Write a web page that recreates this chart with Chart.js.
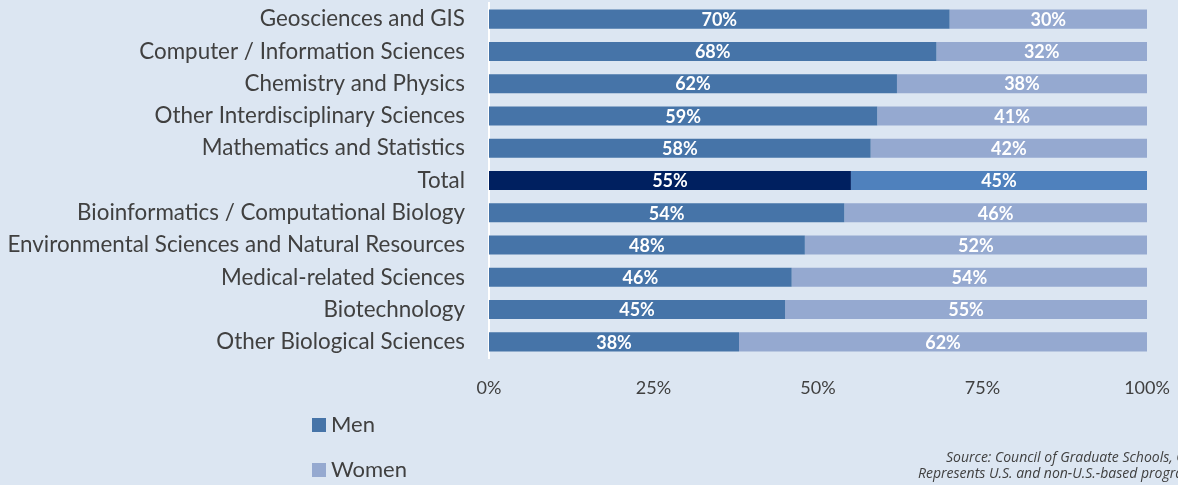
<!DOCTYPE html>
<html>
<head>
<meta charset="utf-8">
<script src="https://cdn.jsdelivr.net/npm/chart.js@4.4.0/dist/chart.umd.min.js"></script>
<style>
  html, body { margin: 0; padding: 0; background: #dce6f2; }
  #wrap { width: 1178px; height: 485px; }
</style>
</head>
<body>
<div id="wrap"><canvas id="barChart"></canvas></div>
<script>
const fields = [
  "Geosciences and GIS",
  "Computer / Information Sciences",
  "Chemistry and Physics",
  "Other Interdisciplinary Sciences",
  "Mathematics and Statistics",
  "Total",
  "Bioinformatics / Computational Biology",
  "Environmental Sciences and Natural Resources",
  "Medical-related Sciences",
  "Biotechnology",
  "Other Biological Sciences"
];
const men = [70, 68, 62, 59, 58, 55, 54, 48, 46, 45, 38];
const women = [30, 32, 38, 41, 42, 45, 46, 52, 54, 55, 62];
const xTicks = [0, 25, 50, 75, 100];

const menColor = "#4674a8";
const womenColor = "#95a9d0";
const totalMen = "#002060";
const totalWomen = "#4f81bd";
const textColor = "#404040";
const font = "Lato, 'Open Sans', sans-serif";

// labels inside bars + legend + source note
const extras = {
  id: "extras",
  afterDatasetsDraw(chart) {
    const ctx = chart.ctx;
    ctx.save();
    ctx.fillStyle = "#ffffff";
    ctx.font = "bold 18px " + font;
    ctx.textAlign = "center";
    ctx.textBaseline = "middle";
    chart.data.datasets.forEach((ds, di) => {
      chart.getDatasetMeta(di).data.forEach((bar, i) => {
        const x = (bar.x + bar.base) / 2;
        ctx.fillText(ds.data[i] + "%", x, bar.y + 1);
      });
    });
    ctx.restore();
  },
  afterDraw(chart) {
    const ctx = chart.ctx;
    ctx.save();
    // legend
    const items = [["Men", menColor, 425], ["Women", womenColor, 470]];
    ctx.font = "22px " + font;
    ctx.textBaseline = "middle";
    ctx.textAlign = "left";
    items.forEach(([name, color, y]) => {
      ctx.fillStyle = color;
      ctx.fillRect(312, y - 7, 14, 14);
      ctx.fillStyle = textColor;
      ctx.fillText(name, 331, y);
    });
    // source
    ctx.font = "italic 14px 'Open Sans', sans-serif";
    ctx.fillStyle = textColor;
    ctx.fillText("Source: Council of Graduate Schools, Graduate Enrollment and Degrees", 946, 458);
    ctx.fillText("Represents U.S. and non-U.S.-based programs", 918, 474);
    ctx.restore();
  }
};

const ctx = document.getElementById("barChart").getContext("2d");
const myBarChart = new Chart(ctx, {
  type: "bar",
  data: {
    labels: fields,
    datasets: [
      {
        label: "Men",
        data: men,
        backgroundColor: (c) => fields[c.dataIndex] === "Total" ? totalMen : menColor,
        barPercentage: 0.59,
        categoryPercentage: 1
      },
      {
        label: "Women",
        data: women,
        backgroundColor: (c) => fields[c.dataIndex] === "Total" ? totalWomen : womenColor,
        barPercentage: 0.59,
        categoryPercentage: 1
      }
    ]
  },
  plugins: [extras],
  options: {
    indexAxis: "y",
    responsive: true,
    maintainAspectRatio: false,
    animation: false,
    layout: { padding: { top: 3, right: 31, bottom: 85, left: 0 } },
    plugins: {
      legend: { display: false },
      tooltip: { enabled: false }
    },
    scales: {
      x: {
        stacked: true,
        min: 0,
        max: 100,
        afterBuildTicks: (axis) => { axis.ticks = xTicks.map(v => ({ value: v })); },
        afterFit: (axis) => {
          axis.height = 42;
          axis.paddingLeft = 0;
          axis.paddingRight = 0;
        },
        grid: { display: false },
        border: { display: false },
        ticks: {
          color: textColor,
          font: { family: font, size: 18 },
          padding: 11,
          callback: (v) => v + "%"
        }
      },
      y: {
        stacked: true,
        afterFit: (axis) => {
          axis.width = 489;
          axis.paddingTop = 0;
          axis.paddingBottom = 0;
        },
        grid: { display: false, drawTicks: false },
        border: { display: true, color: "#ffffff", width: 2 },
        ticks: {
          color: textColor,
          font: { family: font, size: 22.4 },
          padding: 24
        }
      }
    }
  }
});
</script>
</body>
</html>
